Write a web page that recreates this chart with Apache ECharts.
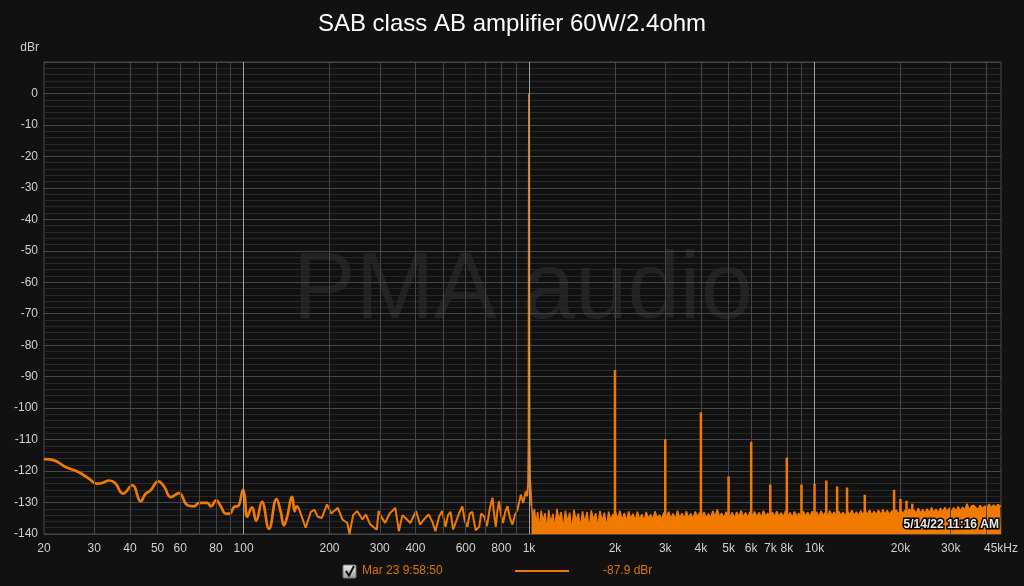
<!DOCTYPE html>
<html>
<head>
<meta charset="utf-8">
<script src="https://cdn.jsdelivr.net/npm/echarts@6/dist/echarts.min.js"></script>
<style>
html,body{margin:0;padding:0;background:#111111;}
#chart{width:1024px;height:586px;}
</style>
</head>
<body>
<div id="chart"></div>
<script>
// ---------- DATA ----------
const titleText = 'SAB class AB amplifier 60W/2.4ohm';
const legendName = 'Mar 23 9:58:50';
const legendValue = '-87.9 dBr';
const stampText = '5/14/22 11:16 AM';

// vertical grid frequencies and their labels
const gridFreqs = [30,40,50,60,70,80,90,100,200,300,400,500,600,700,800,900,1000,2000,3000,4000,5000,6000,7000,8000,9000,10000,20000,30000,40000];
const tickFreqs = [20,30,40,50,60,80,100,200,300,400,600,800,1000,2000,3000,4000,5000,6000,7000,8000,10000,20000,30000,45000];
const tickLabels = ['20','30','40','50','60','80','100','200','300','400','600','800','1k','2k','3k','4k','5k','6k','7k','8k','10k','20k','30k','45kHz'];
const decadeFreqs = [100,1000,10000];

// low-frequency smooth part of the spectrum [Hz, dBr]
const lowSpectrum = [
 [20,-116.2],[21.7,-116.6],[23.8,-118.7],[26.5,-120.4],[28.8,-122.5],[30.6,-124],[32,-123.8],[33.8,-123],
 [35.5,-123.8],[37.8,-127.2],[40.8,-124.5],[43.6,-129.6],[45.4,-127.2],[47.3,-126.1],[50.2,-123.3],[52.7,-124.9],
 [55.6,-128.3],[59.4,-127],[63.5,-130.8],[67,-131.2],[69.8,-130.1],[74.6,-130.1],[76.9,-131.2],[80.2,-129.3],
 [83.2,-131.2],[86.6,-133.5],[89.5,-133.5],[92.6,-131.4],[96,-131],[99.6,-126],[101,-128],[103,-134.5],
 [107,-131.5],[110.7,-135.8],[116,-129.8],[122.8,-138.3],[130.5,-128.9],[135,-133],[138.5,-137.3],[142,-134.6],
 [148,-128.2],[151,-132.8],[153.5,-131.2],[156,-131.7]
];

// mid-band noisy part up to the fundamental skirt [Hz, dBr]
const midSpectrum = [
 [156,-131.7],[165,-138],[172,-133],[177,-132.3],[182,-134.5],[188,-134.9],[196,-130.6],[203,-133.5],[207,-132.8],
 [214,-131.7],[222,-135.4],[231,-136.5],[235,-140],[242,-134],[250,-132.7],[261,-135.4],[268,-133.8],[278,-137],
 [293,-138.6],[297,-132.7],[305,-134.8],[313,-136.5],[325,-133.5],[340,-131.7],[350,-139.1],[360,-134],[369,-134.9],
 [384,-136.5],[402,-132.7],[415,-137],[428,-135.4],[445,-133.8],[458,-136],[470,-139.1],[484,-134.5],[496,-132.7],
 [510,-137.7],[520,-134],[531,-133],[542,-138.5],[553,-136.5],[568,-133.5],[584,-131.2],[596,-136],[608,-137.7],
 [620,-133.5],[633,-133],[650,-138.8],[669,-137.7],[680,-133.5],[696,-134.4],[712,-137.5],[730,-131.5],[745,-128.5],
 [755,-134],[765,-137.7],[775,-132.5],[785,-129.6],[798,-134],[811,-136.5],[825,-133],[840,-131.2],[858,-135],
 [875,-137],[892,-134],[911,-132.3],[936,-127.5],[954,-130.1],[974,-126.5],[985,-128],[993,-124],[997,-110],
 [1000,0],[1003,-110],[1008,-123],[1013,-126],[1020,-131.2]
];

// dense high-frequency noise floor envelope [Hz, dBr]
const highSpectrum = [
 [1020,-131.2],[1032,-134.5],[1045,-132.0],[1058,-137.5],[1072,-133.0],[1088,-138.8],[1103,-132.6],[1120,-136.0],
 [1138,-133.4],[1155,-139.0],[1172,-132.4],[1192,-136.8],[1212,-133.6],[1232,-138.2],[1252,-132.0],[1274,-135.5],
 [1296,-133.0],[1318,-138.5],[1340,-132.6],[1364,-136.2],[1388,-133.2],[1412,-139.0],[1436,-132.3],[1462,-135.8],
 [1488,-133.5],[1514,-138.0],[1540,-132.8],[1568,-136.5],[1596,-133.0],[1624,-138.6],[1652,-132.5],[1682,-135.6],
 [1712,-133.4],[1742,-137.8],[1772,-132.7],[1804,-136.0],[1836,-133.2],[1868,-138.0],[1900,-132.9],[1934,-135.7],
 [1968,-133.6],[1990,-137.0],[2010,-133.0],[2045,-135.4],[2080,-132.6],[2118,-135.8],[2156,-133.4],[2194,-136.0],
 [2234,-132.8],[2274,-135.2],[2314,-133.6],[2356,-135.8],[2398,-132.9],[2440,-135.4],[2484,-133.7],[2528,-136.0],
 [2574,-133.0],[2620,-135.2],[2666,-133.8],[2714,-135.6],[2762,-132.8],[2812,-135.0],[2862,-133.9],[2914,-135.5],
 [2966,-133.2],[3030,-134.8],[3084,-132.9],[3140,-135.2],[3196,-133.5],[3254,-135.4],[3312,-132.6],[3372,-135.0],
 [3432,-133.4],[3494,-135.3],[3556,-132.8],[3620,-134.9],[3686,-133.5],[3752,-135.2],[3820,-132.9],[3888,-134.6],
 [3958,-133.3],[4030,-134.8],[4102,-133.0],[4176,-135.0],[4250,-133.6],[4326,-134.9],[4404,-132.7],[4484,-134.5],
 [4564,-132.2],[4646,-134.6],[4730,-133.4],[4814,-135.0],[4902,-133.0],[5060,-134.5],[5150,-133.2],[5244,-135.1],
 [5338,-133.0],[5434,-134.6],[5532,-132.5],[5632,-134.8],[5732,-133.2],[5836,-134.9],[5940,-133.0],[6060,-134.4],
 [6170,-132.9],[6280,-134.7],[6394,-133.2],[6508,-134.8],[6626,-132.6],[6744,-134.4],[6866,-133.4],[6990,-134.8],
 [7116,-133.0],[7244,-134.6],[7374,-132.8],[7506,-134.5],[7642,-133.3],[7780,-134.7],[7920,-132.6],[8062,-134.5],
 [8208,-133.2],[8356,-134.8],[8506,-132.9],[8658,-134.4],[8814,-133.4],[8972,-134.7],[9134,-132.8],[9298,-134.5],
 [9466,-133.1],[9636,-134.6],[9810,-132.8],[9986,-134.2],[10166,-133.0],[10350,-134.6],[10536,-132.7],[10726,-134.3],
 [10918,-133.1],[11114,-134.5],[11314,-132.6],[11518,-134.2],[11724,-133.0],[11936,-134.5],[12150,-132.8],[12370,-134.1],
 [12592,-133.1],[12818,-134.4],[13048,-132.7],[13284,-134.0],[13522,-132.5],[13766,-134.2],[14014,-133.0],[14266,-134.3],
 [14522,-132.6],[14784,-134.0],[15050,-132.5],[15320,-133.9],[15596,-132.4],[15876,-134.1],[16162,-132.8],[16454,-133.9],
 [16750,-132.4],[17052,-134.0],[17358,-132.2],[17670,-133.8],[17988,-132.5],[18312,-134.0],[18642,-132.6],[18978,-133.6],
 [19320,-132.3],[19668,-133.8],[20022,-132.2],[20382,-133.6],[20750,-132.4],[21124,-133.7],[21504,-132.0],[21890,-133.5],
 [22284,-132.3],[22686,-133.6],[23094,-131.8],[23510,-133.4],[23932,-132.2],[24364,-133.5],[24802,-132.0],[25248,-133.3],
 [25702,-131.6],[26164,-133.2],[26636,-132.1],[27116,-133.4],[27604,-131.8],[28100,-133.0],[28606,-131.5],[29120,-132.9],
 [29644,-131.8],[30178,-133.0],[30722,-131.6],[31274,-132.8],[31838,-131.3],[32410,-132.7],[32994,-131.5],[33588,-132.5],
 [34192,-130.4],[34808,-132.4],[35434,-131.2],[36072,-130.9],[36722,-131.6],[37382,-132.2],[38054,-130.9],[38740,-132.0],
 [39436,-131.1],[40146,-131.8],[40868,-130.5],[41604,-131.7],[42352,-130.8],[43114,-131.6],[43890,-130.6],[44680,-131.2],
 [45000,-131.0]
];

// harmonic spurs
const harmonicFreqs = [2000,3000,4000,5000,6000,7000,8000,9000,10000,11000,12000,13000,15000,19000,20000,21000,22000];
const harmonicDb    = [-87.9,-109.9,-101.3,-121.7,-110.7,-124.3,-115.7,-124.3,-124.0,-123.0,-124.9,-125.2,-127.5,-125.9,-128.9,-129.4,-130.4];

// ---------- CHART ----------
const ORANGE = '#f07a00';
const FONT = 'Liberation Sans, Arial, sans-serif';
const chart = echarts.init(document.getElementById('chart'), null, {renderer: 'canvas'});

const gridLineData = gridFreqs.map(f => ({
  xAxis: f,
  lineStyle: {color: decadeFreqs.includes(f) ? '#a0a0a0' : '#454545', width: 1, type: 'solid'},
  label: {show: false}
}));
const tickLabelData = tickFreqs.map((f, i) => ({
  xAxis: f,
  lineStyle: {color: 'rgba(0,0,0,0)', width: 0},
  label: {show: true, position: 'start', formatter: tickLabels[i], color: '#d0d0d0', fontSize: 12, fontFamily: FONT, distance: 9}
}));

const series = [
  {
    type: 'line', z: 1, silent: true, data: [], showSymbol: false,
    markLine: {silent: true, symbol: ['none','none'], animation: false, data: gridLineData}
  },
  {
    type: 'line', z: 1, silent: true, data: [], showSymbol: false,
    markLine: {silent: true, symbol: ['none','none'], animation: false, data: tickLabelData}
  },
  {
    type: 'line', z: 4, data: lowSpectrum, smooth: 0.45, showSymbol: false, animation: false,
    lineStyle: {color: ORANGE, width: 2.7}, itemStyle: {color: ORANGE}
  },
  {
    type: 'line', z: 4, data: midSpectrum, smooth: false, showSymbol: false, animation: false,
    lineStyle: {color: ORANGE, width: 2}, itemStyle: {color: ORANGE}
  },
  {
    type: 'line', z: 4, data: highSpectrum, smooth: false, showSymbol: false, animation: false,
    lineStyle: {color: ORANGE, width: 1.5}, itemStyle: {color: ORANGE},
    areaStyle: {color: ORANGE, opacity: 1, origin: 'start'}
  }
];
harmonicFreqs.forEach((f, i) => {
  series.push({
    type: 'line', z: 5, data: [[f, -140], [f, harmonicDb[i]]], showSymbol: false, animation: false,
    lineStyle: {color: ORANGE, width: 2.5, cap: 'butt'}, itemStyle: {color: ORANGE}
  });
});

chart.setOption({
  backgroundColor: '#111111',
  animation: false,
  title: {
    text: titleText, left: 'center', top: 7,
    textStyle: {color: '#ffffff', fontSize: 24, fontWeight: 'normal', fontFamily: FONT}
  },
  grid: {left: 44, right: 23, top: 62, bottom: 52, show: true, borderColor: '#4a4a4a', borderWidth: 1, backgroundColor: 'transparent'},
  xAxis: {
    type: 'log', logBase: 10, min: 20, max: 45000,
    axisLine: {show: false}, axisTick: {show: false}, axisLabel: {show: false},
    splitLine: {show: false}, minorSplitLine: {show: false}
  },
  yAxis: {
    type: 'value', min: -140, max: 10, interval: 10,
    name: 'dBr', nameLocation: 'end', nameGap: 8,
    nameTextStyle: {color: '#d0d0d0', fontSize: 12, fontFamily: FONT, align: 'right', padding: [0, 5, 0, 0]},
    axisLine: {show: false}, axisTick: {show: false},
    axisLabel: {color: '#d0d0d0', fontSize: 12, fontFamily: FONT, margin: 6, formatter: v => v === 10 ? '' : String(v)},
    splitLine: {show: true, lineStyle: {color: '#464646', width: 1}},
    minorTick: {show: false, splitNumber: 5},
    minorSplitLine: {show: true, lineStyle: {color: '#282828', width: 1}}
  },
  graphic: [
    {type: 'text', z: -1, silent: true,
      style: {text: 'PMA audio', x: 523, y: 292, textAlign: 'center', textVerticalAlign: 'middle',
        fontSize: 94, fontFamily: FONT, fill: '#222222'}},
    {type: 'text', z: 100, silent: true,
      style: {text: stampText, x: 999, y: 531, textAlign: 'right', textVerticalAlign: 'bottom',
        fontSize: 12, fontWeight: 'bold', fontFamily: FONT, fill: '#e8e8e8',
        stroke: '#000000', lineWidth: 3, strokeFirst: true}},
    {type: 'rect', z: 100, silent: true, shape: {x: 343, y: 565, width: 13, height: 13, r: 1},
      style: {fill: new echarts.graphic.LinearGradient(0, 0, 0, 1, [{offset: 0, color: '#f2f2f2'}, {offset: 1, color: '#9a9a9a'}]), stroke: '#777', lineWidth: 1}},
    {type: 'polyline', z: 101, silent: true, shape: {points: [[346, 571], [349, 575.5], [354, 566]]},
      style: {stroke: '#111', lineWidth: 2, fill: null}},
    {type: 'text', z: 100, silent: true,
      style: {text: legendName, x: 362, y: 571, textVerticalAlign: 'middle', fontSize: 12, fontFamily: FONT, fill: '#dc7400'}},
    {type: 'line', z: 100, silent: true, shape: {x1: 515, y1: 571, x2: 569, y2: 571},
      style: {stroke: ORANGE, lineWidth: 2}},
    {type: 'text', z: 100, silent: true,
      style: {text: legendValue, x: 603, y: 571, textVerticalAlign: 'middle', fontSize: 12, fontFamily: FONT, fill: '#dc7400'}}
  ],
  series: series
});
</script>
</body>
</html>
